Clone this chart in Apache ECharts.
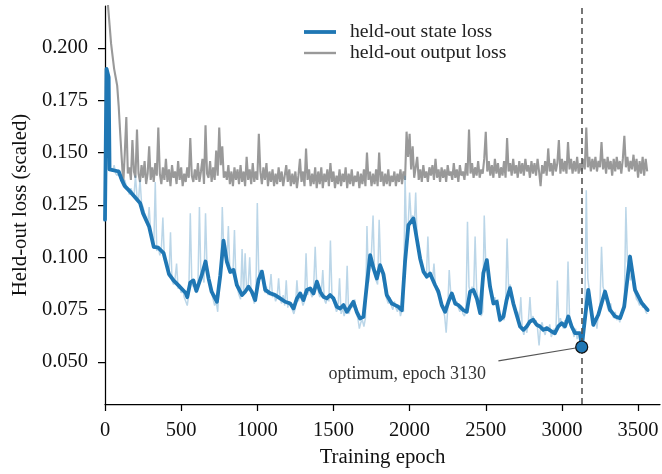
<!DOCTYPE html>
<html>
<head>
<meta charset="utf-8">
<script src="https://cdn.jsdelivr.net/npm/echarts@6/dist/echarts.min.js"></script>
<style>html,body{margin:0;padding:0;background:#fff}#c{width:662px;height:474px}</style>
</head>
<body>
<div id="c"></div>
<script>
// ---- data ----
const xTicks = [0, 500, 1000, 1500, 2000, 2500, 3000, 3500];
const yTicks = [0.050, 0.075, 0.100, 0.125, 0.150, 0.175, 0.200];
const rawStep = 10; // raw curves sampled every 10 epochs

const outputLoss = [
  0.235,0.228,0.220,0.211,0.202,0.196,0.190,0.186,0.182,0.172, 0.159,0.147,0.135,0.150,0.167,0.140,0.143,0.137,0.156,0.141,
  0.138,0.161,0.140,0.136,0.144,0.138,0.146,0.135,0.140,0.153, 0.137,0.143,0.136,0.145,0.139,0.162,0.140,0.135,0.143,0.137,
  0.147,0.136,0.142,0.134,0.144,0.138,0.141,0.135,0.146,0.137, 0.143,0.134,0.140,0.136,0.143,0.138,0.157,0.139,0.136,0.142,
  0.137,0.145,0.136,0.141,0.147,0.135,0.163,0.140,0.138,0.146, 0.136,0.143,0.137,0.151,0.139,0.162,0.144,0.153,0.138,0.141,
  0.137,0.144,0.135,0.141,0.134,0.143,0.137,0.142,0.135,0.144, 0.136,0.141,0.134,0.148,0.137,0.142,0.135,0.145,0.136,0.141,
  0.137,0.159,0.141,0.135,0.143,0.137,0.145,0.134,0.141,0.136, 0.142,0.134,0.140,0.135,0.143,0.136,0.141,0.134,0.139,0.144,
  0.136,0.142,0.134,0.140,0.135,0.141,0.133,0.139,0.147,0.136, 0.141,0.134,0.152,0.137,0.142,0.134,0.140,0.135,0.143,0.133,
  0.141,0.135,0.143,0.133,0.140,0.136,0.142,0.134,0.145,0.136, 0.141,0.133,0.139,0.135,0.142,0.134,0.140,0.136,0.143,0.133,
  0.140,0.135,0.142,0.134,0.139,0.136,0.141,0.133,0.140,0.135, 0.142,0.134,0.150,0.137,0.141,0.134,0.140,0.135,0.142,0.134,
  0.150,0.136,0.141,0.134,0.140,0.135,0.142,0.134,0.139,0.136, 0.141,0.134,0.140,0.136,0.142,0.135,0.141,0.137,0.160,0.148,
  0.159,0.142,0.153,0.138,0.143,0.148,0.137,0.142,0.136,0.144, 0.138,0.141,0.136,0.143,0.139,0.144,0.137,0.147,0.138,0.142,
  0.136,0.143,0.138,0.142,0.136,0.144,0.139,0.141,0.137,0.145, 0.138,0.142,0.136,0.144,0.139,0.141,0.137,0.145,0.139,0.161,
  0.140,0.145,0.138,0.143,0.139,0.146,0.138,0.142,0.140,0.147, 0.160,0.141,0.146,0.139,0.144,0.138,0.147,0.140,0.145,0.138,
  0.143,0.139,0.146,0.138,0.157,0.141,0.145,0.139,0.147,0.140, 0.144,0.138,0.146,0.140,0.145,0.139,0.147,0.141,0.144,0.138,
  0.146,0.140,0.145,0.139,0.147,0.141,0.134,0.144,0.140,0.146, 0.139,0.152,0.141,0.145,0.139,0.147,0.141,0.145,0.156,0.140,
  0.147,0.141,0.146,0.140,0.155,0.142,0.147,0.140,0.146,0.141, 0.148,0.140,0.145,0.141,0.147,0.142,0.162,0.143,0.148,0.141,
  0.147,0.142,0.148,0.141,0.146,0.143,0.155,0.142,0.147,0.140, 0.148,0.142,0.146,0.139,0.147,0.141,0.148,0.142,0.146,0.140,
  0.147,0.158,0.143,0.148,0.141,0.146,0.142,0.149,0.141,0.147, 0.138,0.146,0.140,0.148,0.139,0.147,0.141
];

const stateRaw = [
  0.118,0.190,0.160,0.143,0.142,0.141,0.144,0.140,0.139,0.142, 0.138,0.136,0.134,0.137,0.134,0.132,0.130,0.133,0.131,0.129,
  0.139,0.129,0.127,0.137,0.126,0.124,0.121,0.119,0.115,0.124, 0.112,0.108,0.104,0.136,0.103,0.105,0.101,0.104,0.119,0.099,
  0.097,0.094,0.091,0.112,0.089,0.087,0.090,0.097,0.085,0.087, 0.083,0.085,0.081,0.079,0.077,0.082,0.121,0.088,0.086,0.089,
  0.083,0.086,0.124,0.090,0.092,0.088,0.121,0.095,0.089,0.087, 0.083,0.080,0.077,0.079,0.074,0.088,0.092,0.124,0.103,0.106,
  0.098,0.115,0.093,0.095,0.092,0.113,0.088,0.085,0.082,0.080, 0.104,0.082,0.102,0.084,0.086,0.100,0.083,0.081,0.078,0.080,
  0.126,0.090,0.094,0.091,0.088,0.083,0.086,0.082,0.084,0.092, 0.081,0.083,0.079,0.081,0.090,0.080,0.078,0.082,0.077,0.089,
  0.076,0.079,0.077,0.075,0.073,0.076,0.089,0.079,0.082,0.080, 0.077,0.079,0.102,0.082,0.085,0.083,0.081,0.086,0.105,0.087,
  0.084,0.081,0.083,0.094,0.080,0.078,0.081,0.079,0.108,0.082, 0.079,0.077,0.074,0.076,0.090,0.073,0.076,0.072,0.075,0.096,
  0.073,0.075,0.078,0.076,0.080,0.073,0.071,0.066,0.069,0.070, 0.067,0.071,0.115,0.088,0.097,0.103,0.120,0.093,0.089,0.087,
  0.118,0.096,0.092,0.088,0.083,0.080,0.078,0.081,0.077,0.075, 0.079,0.076,0.074,0.077,0.072,0.075,0.074,0.139,0.110,0.114,
  0.131,0.118,0.120,0.115,0.131,0.107,0.103,0.099,0.096,0.094, 0.092,0.090,0.110,0.091,0.093,0.089,0.097,0.086,0.083,0.085,
  0.080,0.077,0.075,0.072,0.064,0.075,0.094,0.083,0.080,0.082, 0.077,0.079,0.076,0.074,0.077,0.073,0.072,0.075,0.117,0.086,
  0.083,0.086,0.082,0.110,0.085,0.080,0.076,0.072,0.074,0.120, 0.097,0.099,0.092,0.087,0.083,0.079,0.081,0.077,0.080,0.069,
  0.071,0.073,0.070,0.076,0.109,0.085,0.087,0.083,0.079,0.076, 0.072,0.074,0.069,0.081,0.066,0.063,0.067,0.064,0.070,0.081,
  0.069,0.072,0.068,0.070,0.066,0.058,0.067,0.069,0.065,0.063, 0.067,0.065,0.068,0.062,0.064,0.066,0.063,0.089,0.068,0.071,
  0.068,0.066,0.070,0.067,0.098,0.072,0.068,0.065,0.062,0.066, 0.061,0.064,0.063,0.060,0.058,0.071,0.132,0.090,0.084,0.075,
  0.069,0.067,0.071,0.066,0.074,0.078,0.105,0.086,0.083,0.080, 0.076,0.074,0.078,0.073,0.071,0.074,0.070,0.072,0.069,0.073,
  0.076,0.079,0.124,0.098,0.095,0.089,0.092,0.085,0.083,0.080, 0.079,0.077,0.080,0.076,0.078,0.074,0.073
];

const smoothEpochs = [
  0,10,24,30,90,110,130,170,200,230,
  250,290,320,350,385,420,450,490,530,540,
  560,580,600,635,660,680,700,735,757,778,
  800,822,844,866,900,920,942,964,986,1008,
  1030,1052,1085,1117,1150,1183,1216,1238,1260,1281,
  1303,1325,1347,1369,1391,1413,1434,1456,1478,1500,
  1522,1544,1566,1588,1610,1631,1653,1675,1697,1719,
  1741,1763,1785,1806,1828,1850,1883,1905,1926,1949,
  1970,1992,2025,2047,2069,2091,2113,2134,2167,2189,
  2211,2233,2255,2277,2299,2320,2353,2375,2397,2419,
  2441,2463,2484,2507,2528,2550,2572,2594,2616,2637,
  2659,2681,2703,2725,2747,2769,2790,2812,2834,2856,
  2878,2900,2933,2954,2976,2999,3020,3042,3064,3086,
  3097,3119,3130,3173,3206,3239,3283,3316,3349,3382,
  3409,3447,3480,3524,3563
];
const stateSmooth = [
  0.118,0.190,0.186,0.142,0.141,0.137,0.134,0.131,0.1285,0.126,
  0.121,0.1146,0.105,0.1046,0.102,0.092,0.089,0.086,0.083,0.081,
  0.088,0.089,0.084,0.0915,0.098,0.090,0.0836,0.0788,0.0915,0.108,
  0.098,0.093,0.094,0.0867,0.082,0.0836,0.086,0.0836,0.0796,0.0893,
  0.0932,0.0845,0.0828,0.082,0.0804,0.0788,0.078,0.0756,0.0804,0.0828,
  0.0796,0.0844,0.0852,0.0828,0.0884,0.0836,0.0812,0.0804,0.082,0.0804,
  0.0764,0.0756,0.0772,0.074,0.0764,0.0788,0.074,0.0708,0.0716,0.0868,
  0.1011,0.0947,0.0899,0.0963,0.092,0.082,0.078,0.0772,0.0764,0.0748,
  0.0979,0.1154,0.1186,0.109,0.0995,0.0932,0.0908,0.0923,0.0868,0.0836,
  0.0772,0.074,0.0788,0.0828,0.078,0.0772,0.0748,0.074,0.0836,0.0844,
  0.0804,0.0734,0.0924,0.0987,0.086,0.078,0.0788,0.0702,0.0717,0.0797,
  0.0853,0.078,0.0725,0.067,0.0654,0.067,0.0694,0.0702,0.0678,0.067,
  0.0654,0.0662,0.0646,0.0638,0.067,0.0686,0.067,0.0718,0.067,0.0638,
  0.0646,0.0638,0.0572,0.0845,0.0678,0.0726,0.0837,0.0749,0.0718,0.071,
  0.0765,0.1004,0.0845,0.0782,0.0749
];

const optEpoch = 3130;
const optValue = 0.0572;
const annotText = 'optimum, epoch 3130';
const annotTextPos = [1984, 0.0444];
const annotLineStart = [2583, 0.0506];

// ---- chart ----
const FONT = "'Liberation Serif', 'DejaVu Serif', serif";
const rawEpochs = outputLoss.map((_, i) => i * rawStep);
const pairs = (xs, ys) => ys.map((v, i) => [xs[i], v]);

const chart = echarts.init(document.getElementById('c'), null, {renderer: 'canvas'});
chart.setOption({
  animation: false,
  backgroundColor: '#ffffff',
  grid: {left: 105, right: 2, top: 6, bottom: 70, containLabel: false},
  legend: {
    data: [
      {name: 'held-out state loss', icon: 'path://M0,0H32V3.8H0Z'},
      {name: 'held-out output loss', icon: 'path://M0,0H32V2.4H0Z'}
    ],
    orient: 'vertical', left: 304, top: 22, padding: 0,
    itemWidth: 32, itemHeight: 20, itemGap: 1,
    selectedMode: false,
    textStyle: {fontFamily: FONT, fontSize: 19.7, color: '#222', padding: [0, 0, 0, 9]}
  },
  xAxis: {
    type: 'value', min: 0, max: 3644,
    name: 'Training epoch', nameLocation: 'middle', nameGap: 43,
    nameTextStyle: {fontFamily: FONT, fontSize: 20.8, color: '#111'},
    axisLine: {show: true, onZero: false, lineStyle: {color: '#000', width: 1.25}},
    axisTick: {show: true, length: 7, lineStyle: {color: '#000', width: 1.25}, customValues: xTicks},
    axisLabel: {fontFamily: FONT, fontSize: 20.5, color: '#111', margin: 16, customValues: xTicks,
      formatter: v => String(v)},
    splitLine: {show: false}
  },
  yAxis: {
    type: 'value', min: 0.03, max: 0.22,
    name: 'Held-out loss (scaled)', nameLocation: 'middle', nameGap: 74, nameRotate: 90,
    nameTextStyle: {fontFamily: FONT, fontSize: 20.8, color: '#111'},
    axisLine: {show: true, onZero: false, lineStyle: {color: '#000', width: 1.25}},
    axisTick: {show: true, length: 7, lineStyle: {color: '#000', width: 1.25}, customValues: yTicks},
    axisLabel: {fontFamily: FONT, fontSize: 20.5, color: '#111', margin: 17, customValues: yTicks,
      formatter: v => v.toFixed(3)},
    splitLine: {show: false}
  },
  series: [
    {
      name: 'annotation', type: 'scatter', data: [], z: 1, silent: true,
      markLine: {
        silent: true, symbol: ['none', 'none'], animation: false,
        label: {show: false},
        data: [
          {xAxis: optEpoch, lineStyle: {color: '#555', width: 1.6, type: [6, 4]}},
          [{coord: annotLineStart, lineStyle: {color: '#555', width: 1.1, type: 'solid'}},
           {coord: [optEpoch, optValue]}]
        ]
      },
      markPoint: {
        silent: true, symbol: 'circle', symbolSize: 0, animation: false,
        label: {show: true, position: 'inside', formatter: annotText,
          fontFamily: FONT, fontSize: 18, color: '#333'},
        data: [{coord: annotTextPos}]
      }
    },
    {
      name: 'held-out output loss', type: 'line', data: pairs(rawEpochs, outputLoss),
      symbol: 'none', showSymbol: false, z: 2, clip: true,
      lineStyle: {color: '#999999', width: 2.1}, itemStyle: {color: '#999999'}
    },
    {
      name: 'state loss (raw)', type: 'line', data: pairs(rawEpochs, stateRaw),
      symbol: 'none', showSymbol: false, z: 3, clip: true,
      lineStyle: {color: 'rgba(31,119,180,0.3)', width: 1.5}
    },
    {
      name: 'held-out state loss', type: 'line', data: pairs(smoothEpochs, stateSmooth),
      symbol: 'none', showSymbol: false, z: 4, clip: true,
      lineStyle: {color: '#1f77b4', width: 3.8, join: 'round', cap: 'round'}, itemStyle: {color: '#1f77b4'}
    },
    {
      name: 'optimum', type: 'scatter', data: [[optEpoch, optValue]], z: 6,
      symbol: 'circle', symbolSize: 12,
      itemStyle: {color: '#1f77b4', borderColor: '#111', borderWidth: 1.2, opacity: 1}
    }
  ]
});
</script>
</body>
</html>
